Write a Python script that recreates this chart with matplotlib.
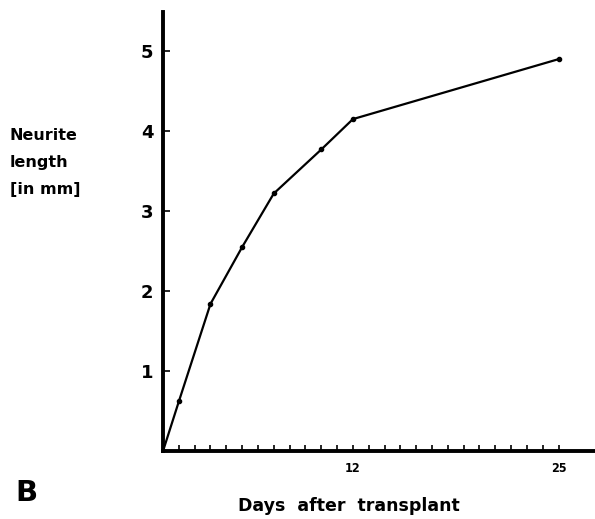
import matplotlib
matplotlib.use("Agg")
from matplotlib import pyplot as plt

# Data
days = [0, 1, 3, 5, 7, 10, 12, 25]
length_mm = [0.0, 0.62, 1.84, 2.55, 3.22, 3.77, 4.15, 4.90]
ytick_vals = [1, 2, 3, 4, 5]
xlabel_ticks = [12, 25]
minor_days = list(range(1, 26))

fig = plt.figure(figsize=(5.95, 5.19), dpi=100)
ax = fig.add_axes([0.274, 0.131, 0.726, 0.846])

ax.plot(days, length_mm, color='black', linewidth=1.6,
        marker='o', markersize=3, solid_capstyle='round')

ax.set_xlim(0, 27.3)
ax.set_ylim(0, 5.49)

for side in ('top', 'right'):
    ax.spines[side].set_visible(False)
for side in ('left', 'bottom'):
    ax.spines[side].set_linewidth(2.8)

ax.set_yticks(ytick_vals)
ax.set_yticklabels([str(v) for v in ytick_vals], fontsize=13, fontweight='bold')
ax.tick_params(axis='y', direction='in', length=5, width=1.2, pad=7)

ax.set_xticks(minor_days, minor=True)
ax.set_xticks(xlabel_ticks)
ax.set_xticklabels([str(v) for v in xlabel_ticks], fontsize=9,
                   fontweight='bold', fontstretch='condensed')
ax.tick_params(axis='x', which='both', direction='in', length=4, width=1.2, pad=8)

fig.text(0.016, 0.686, "Neurite\nlength\n[in mm]", fontsize=11.5,
         fontweight='bold', ha='left', va='center', linespacing=2.0)
fig.text(0.587, 0.026, "Days  after  transplant", fontsize=12.5,
         fontweight='bold', ha='center', va='center')
fig.text(0.025, 0.051, "B", fontsize=21, fontweight='bold',
         ha='left', va='center')

fig.savefig("out.png", dpi=100)
